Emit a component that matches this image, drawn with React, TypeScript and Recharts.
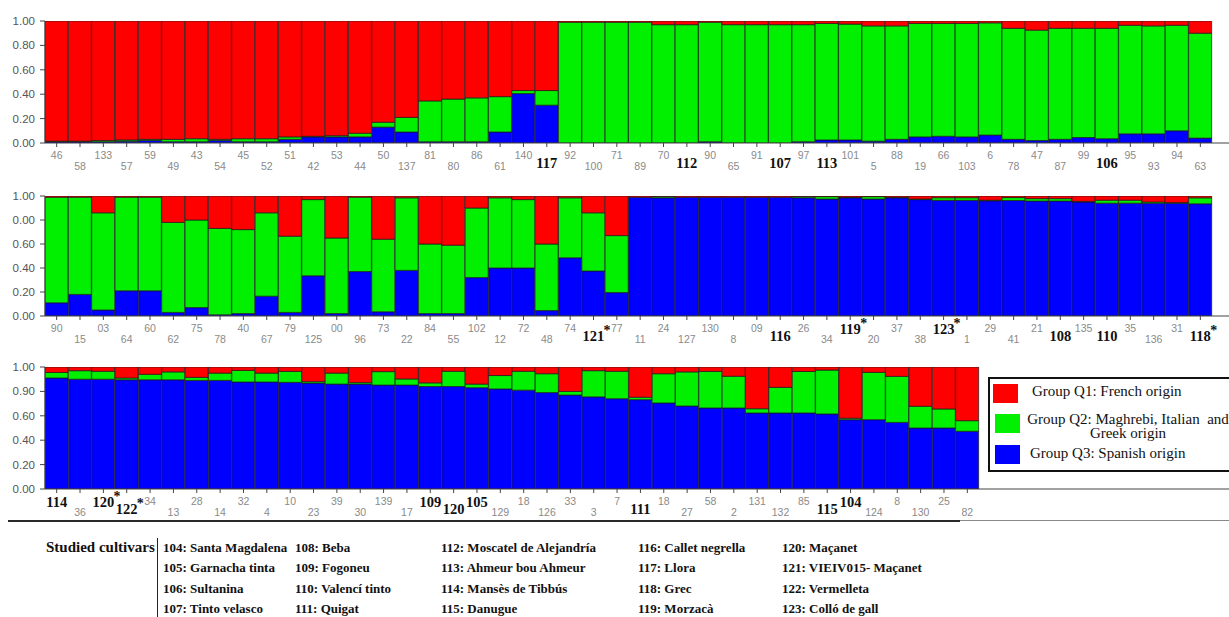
import React from "react";
import { BarChart, Bar, XAxis, YAxis, Legend } from "recharts";

const SERIF = '"Liberation Serif", "DejaVu Serif", serif';
const SANS = '"Liberation Sans", Arial, sans-serif';
const RED = "#ff0000";
const GREEN = "#00f000";
const BLUE = "#0000ff";

// ---------- Row 1 ----------
const row1Labels = ["46","58","133","57","59","49","43","54","45","52","51","42","53","44","50","137","81","80","86","61","140","117","92","100","71","89","70","112","90","65","91","107","97","113","101","5","88","19","66","103","6","78","47","87","99","106","95","93","94","63"];
const row1Q3 = [0.01,0.01,0.01,0.015,0.02,0.01,0.01,0.02,0.01,0.01,0.03,0.05,0.05,0.05,0.13,0.09,0.01,0.01,0.01,0.09,0.405,0.31,0,0,0,0,0,0,0.01,0,0,0,0.01,0.025,0.025,0.015,0.03,0.05,0.055,0.05,0.065,0.03,0.02,0.03,0.045,0.035,0.075,0.075,0.1,0.04];
const row1Q2 = [0.005,0.005,0.01,0.01,0.01,0.02,0.025,0.01,0.025,0.025,0.02,0.005,0.01,0.03,0.04,0.12,0.335,0.35,0.36,0.29,0.025,0.12,0.99,0.99,0.99,0.99,0.97,0.97,0.98,0.97,0.97,0.97,0.96,0.955,0.95,0.945,0.93,0.93,0.925,0.93,0.92,0.91,0.905,0.91,0.895,0.905,0.89,0.885,0.865,0.86];
const row1Q1 = [0.985,0.985,0.98,0.975,0.97,0.97,0.965,0.97,0.965,0.965,0.95,0.945,0.94,0.92,0.83,0.79,0.655,0.64,0.63,0.62,0.57,0.57,0.01,0.01,0.01,0.01,0.03,0.03,0.01,0.03,0.03,0.03,0.03,0.02,0.025,0.04,0.04,0.02,0.02,0.02,0.015,0.06,0.075,0.06,0.06,0.06,0.035,0.04,0.035,0.1];
const row1YLabels = ["0.00","0.20","0.40","0.60","0.80","1.00"];

// ---------- Row 2 ----------
const row2Labels = ["90","15","03","64","60","62","75","78","40","67","79","125","00","96","73","22","84","55","102","12","72","48","74","121*","77","11","24","127","130","8","09","116","26","34","119*","20","37","38","123*","1","29","41","21","108","135","110","35","136","31","118*"];
const row2Q3 = [0.11,0.18,0.05,0.21,0.21,0.03,0.07,0.01,0.02,0.165,0.03,0.335,0.02,0.37,0.035,0.38,0.02,0.02,0.32,0.4,0.4,0.045,0.485,0.375,0.195,0.99,0.985,0.99,0.99,0.99,0.99,0.99,0.985,0.975,0.985,0.975,0.985,0.97,0.964,0.964,0.96,0.962,0.958,0.958,0.95,0.94,0.94,0.94,0.94,0.935];
const row2Q2 = [0.88,0.81,0.81,0.78,0.78,0.75,0.73,0.72,0.7,0.695,0.635,0.635,0.63,0.62,0.605,0.605,0.58,0.57,0.58,0.585,0.57,0.555,0.5,0.485,0.475,0,0.01,0,0,0,0,0,0.01,0.02,0.005,0.02,0.005,0.005,0.022,0.022,0.005,0.025,0.02,0.02,0.005,0.025,0.025,0.01,0.005,0.05];
const row2Q1 = [0.01,0.01,0.14,0.01,0.01,0.22,0.2,0.27,0.28,0.14,0.335,0.03,0.35,0.01,0.36,0.015,0.4,0.41,0.1,0.015,0.03,0.4,0.015,0.14,0.33,0.01,0.005,0.01,0.01,0.01,0.01,0.01,0.005,0.005,0.01,0.005,0.01,0.025,0.014,0.014,0.035,0.013,0.022,0.022,0.045,0.035,0.035,0.05,0.055,0.015];
const row2YLabels = ["0.00","0.20","0.40","0.60","0.00","1.00"];

// ---------- Row 3 ----------
const row3Labels = ["114","36","120*","122*","34","13","28","14","32","4","10","23","39","30","139","17","109","120","105","129","18","126","33","3","7","111","18","27","58","2","131","132","85","115","104","124","8","130","25","82"];
const row3Q3 = [0.91,0.9,0.9,0.895,0.895,0.895,0.89,0.89,0.877,0.877,0.874,0.868,0.86,0.86,0.852,0.852,0.84,0.84,0.83,0.82,0.81,0.79,0.77,0.755,0.74,0.732,0.705,0.68,0.664,0.664,0.623,0.623,0.623,0.615,0.568,0.568,0.546,0.5,0.5,0.473];
const row3Q2 = [0.045,0.07,0.065,0.015,0.045,0.065,0.025,0.06,0.095,0.073,0.09,0.012,0.09,0.012,0.11,0.05,0.03,0.125,0.03,0.11,0.155,0.155,0.03,0.215,0.225,0.02,0.24,0.28,0.3,0.26,0.035,0.21,0.34,0.36,0.012,0.388,0.377,0.178,0.156,0.087];
const row3Q1 = [0.045,0.03,0.035,0.09,0.06,0.04,0.085,0.05,0.028,0.05,0.036,0.12,0.05,0.128,0.038,0.098,0.13,0.035,0.14,0.07,0.035,0.055,0.2,0.03,0.035,0.248,0.055,0.04,0.036,0.076,0.342,0.167,0.037,0.025,0.42,0.044,0.077,0.322,0.344,0.44];
const row3YLabels = ["0.00","0.20","0.40","0.60","0.90","1.00"];

const Y_TICKS = [0, 0.2, 0.4, 0.6, 0.8, 1];

const legendItems = [
  { color: RED, lines: ["Group Q1: French origin"] },
  { color: GREEN, lines: ["Group Q2: Maghrebi, Italian  and", "Greek origin"] },
  { color: BLUE, lines: ["Group Q3: Spanish origin"] },
];

const cultivarColumns = [
  ["104: Santa Magdalena", "105: Garnacha tinta", "106: Sultanina", "107: Tinto velasco"],
  ["108: Beba", "109: Fogoneu", "110: Valencí tinto", "111: Quigat"],
  ["112: Moscatel de Alejandría", "113: Ahmeur bou Ahmeur", "114: Mansès de Tibbús", "115: Danugue"],
  ["116: Callet negrella", "117: Llora", "118: Grec", "119: Morzacà"],
  ["120: Maçanet", "121: VIEIV015- Maçanet", "122: Vermelleta", "123: Colló de gall"],
];
const columnLefts = [163, 295, 441, 638, 782];

function makeTick(labels: string[]) {
  return (props: any) => {
    const { x, y, index } = props;
    const label = labels[index] ?? "";
    const star = label.endsWith("*");
    const num = star ? label.slice(0, -1) : label;
    const n = Number(num);
    const bold = n >= 104 && n <= 123;
    const high = index % 2 === 0;
    if (bold) {
      const cy = y + (high ? 9 : 16);
      return (
        <g>
          <text x={x} y={cy} textAnchor="middle" dominantBaseline="central" fontFamily={SERIF} fontWeight={700} fontSize={14.5} fill="#111">
            {num}
          </text>
          {star && (
            <text x={x + 10} y={cy - 6} textAnchor="start" dominantBaseline="central" fontFamily={SERIF} fontWeight={700} fontSize={14} fill="#111">
              *
            </text>
          )}
        </g>
      );
    }
    const cy = y + (high ? 8 : 18.5);
    return (
      <text x={x} y={cy} textAnchor="middle" dominantBaseline="central" fontFamily={SANS} fontSize={10.5} fill="#8a8a8a">
        {num}
      </text>
    );
  };
}

function renderLegend() {
  return (
    <div style={{ position: "relative", width: 260, height: 95, border: "2px solid #111", boxSizing: "border-box", background: "#fff" }}>
      {legendItems.map((it, i) => {
        const sw = [{ l: 3, t: 5 }, { l: 5, t: 35 }, { l: 5, t: 66 }][i];
        const tx = [{ l: 42, t: 5, w: 200, align: "left" }, { l: 30, t: 33, w: 216, align: "center" }, { l: 40, t: 67, w: 200, align: "left" }][i];
        return (
          <React.Fragment key={i}>
            <div style={{ position: "absolute", left: sw.l, top: sw.t, width: 25, height: 19, background: it.color }} />
            <div style={{ position: "absolute", left: tx.l, top: tx.t, width: tx.w, textAlign: tx.align as any, fontFamily: SERIF, fontSize: 15, lineHeight: "14px", color: "#111", whiteSpace: "pre" }}>
              {it.lines.map((ln, j) => (
                <div key={j} style={{ height: 14 }}>{ln}</div>
              ))}
            </div>
          </React.Fragment>
        );
      })}
    </div>
  );
}

type RowProps = {
  top: number;
  height: number;
  labels: string[];
  q3: number[];
  q2: number[];
  q1: number[];
  yLabels: string[];
  padRight: number;
  legend?: boolean;
};

function StructureRow({ top, height, labels, q3, q2, q1, yLabels, padRight, legend }: RowProps) {
  const data = labels.map((l, i) => ({ key: String(i), name: l, q3: q3[i], q2: q2[i], q1: q1[i] }));
  return (
    <div style={{ position: "absolute", left: 0, top, width: 1229, height }}>
      <BarChart width={1229} height={height} data={data} margin={{ top: 21, right: 0, bottom: 0, left: 0 }} barCategoryGap={0} barGap={0}>
        <XAxis
          dataKey="key"
          interval={0}
          tick={makeTick(labels)}
          tickSize={4}
          tickMargin={0}
          height={30}
          padding={{ left: 0, right: padRight }}
          axisLine={{ stroke: "#444", strokeWidth: 1 }}
          tickLine={{ stroke: "#444" }}
        />
        <YAxis
          domain={[0, 1]}
          allowDataOverflow
          ticks={Y_TICKS}
          interval={0}
          width={45}
          tickSize={5}
          tickMargin={5}
          axisLine={{ stroke: "#444" }}
          tickLine={{ stroke: "#444" }}
          tickFormatter={(v: number, i: number) => yLabels[i]}
          tick={{ fontFamily: SANS, fontSize: 11.5, fill: "#555" }}
        />
        <Bar dataKey="q3" stackId="s" fill={BLUE} stroke="#1a1a1a" strokeWidth={0.7} isAnimationActive={false} />
        <Bar dataKey="q2" stackId="s" fill={GREEN} stroke="#1a1a1a" strokeWidth={0.7} isAnimationActive={false} />
        <Bar dataKey="q1" stackId="s" fill={RED} stroke="#1a1a1a" strokeWidth={0.7} isAnimationActive={false} />
        {legend && (
          <Legend
            layout="horizontal"
            verticalAlign="middle"
            align="center"
            content={renderLegend}
            wrapperStyle={{ position: "absolute", left: 988, top: 31, width: 260, height: 95 }}
          />
        )}
      </BarChart>
    </div>
  );
}

export default function App() {
  return (
    <div style={{ position: "absolute", left: 0, top: 0, width: 1229, height: 617, overflow: "hidden", background: "#fff" }}>
      <StructureRow top={0} height={173} labels={row1Labels} q3={row1Q3} q2={row1Q2} q1={row1Q1} yLabels={row1YLabels} padRight={17} />
      <StructureRow top={175} height={171} labels={row2Labels} q3={row2Q3} q2={row2Q2} q1={row2Q1} yLabels={row2YLabels} padRight={17} />
      <StructureRow top={346} height={173} labels={row3Labels} q3={row3Q3} q2={row3Q2} q1={row3Q1} yLabels={row3YLabels} padRight={250} legend />

      <div style={{ position: "absolute", left: 8, top: 520, width: 952, height: 2, background: "#2a2a2a" }} />
      <div style={{ position: "absolute", left: 960, top: 520, width: 269, height: 1, background: "#888" }} />

      <div style={{ position: "absolute", left: 46, top: 537, height: 20, lineHeight: "20px", fontFamily: SERIF, fontWeight: 700, fontSize: 15, color: "#111", whiteSpace: "nowrap" }}>
        Studied cultivars
      </div>
      <div style={{ position: "absolute", left: 157, top: 538, width: 1, height: 79, background: "#222" }} />
      {cultivarColumns.map((col, ci) =>
        col.map((txt, ri) => (
          <div
            key={`${ci}-${ri}`}
            style={{ position: "absolute", left: columnLefts[ci], top: 538 + ri * 20.3, height: 20, lineHeight: "20px", fontFamily: SERIF, fontWeight: 700, fontSize: 13, color: "#111", whiteSpace: "nowrap" }}
          >
            {txt}
          </div>
        ))
      )}
    </div>
  );
}
